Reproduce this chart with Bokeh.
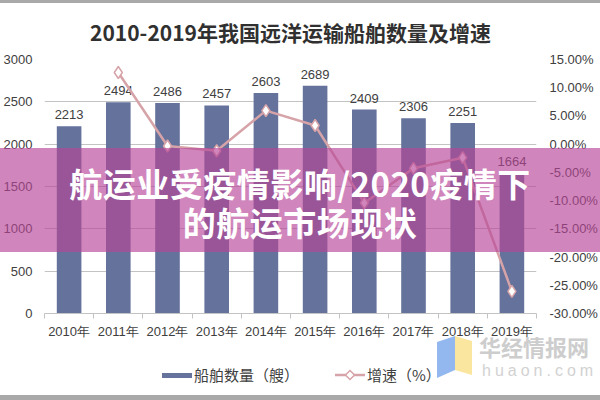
import numpy as np
from bokeh.plotting import figure
from bokeh.models import (Range1d, LinearAxis, FixedTicker, PrintfTickFormatter, Div)
from bokeh.core.properties import value
from bokeh.embed import file_html
from bokeh.resources import INLINE

# ---- data -------------------------------------------------------------
years = ["2010年", "2011年", "2012年", "2013年", "2014年",
         "2015年", "2016年", "2017年", "2018年", "2019年"]
ships = [2213, 2494, 2486, 2457, 2603, 2689, 2409, 2306, 2251, 1664]
growth = [float("nan"), 12.70, -0.32, -1.17, 5.94, 3.30, -10.41, -4.28, -2.39, -26.08]
count_ticks = [0, 500, 1000, 1500, 2000, 2500, 3000]
rate_ticks = [-30, -25, -20, -15, -10, -5, 0, 5, 10, 15]

title_text = "2010-2019年我国远洋运输船舶数量及增速"
banner_lines = ["航运业受疫情影响/2020疫情下", "的航运市场现状"]
series_names = ["船舶数量（艘）", "增速（%）"]

BAR = "#65729c"
PINK = "#d6a3a8"
TXT = "#404040"
GRID = "#c3c3c3"
SANS = "Liberation Sans"
CJK = "Noto Sans CJK SC"

x = np.arange(len(years)) + 0.5

p = figure(width=600, height=400,
           x_range=Range1d(0, len(years)), y_range=Range1d(0, 3000),
           output_backend="svg", toolbar_location=None,
           min_border_left=0, min_border_top=59, min_border_bottom=87,
           min_border_right=0, outline_line_color=None)

# ---- title ------------------------------------------------------------
p.title.text = title_text
p.title.align = "center"
p.title.text_font = CJK
p.title.text_font_size = "21px"
p.title.text_font_style = "bold"
p.title.text_color = "#303030"
p.title.standoff = 25

# ---- axes -------------------------------------------------------------
xa = p.xaxis[0]
xa.ticker = FixedTicker(ticks=list(x), minor_ticks=list(range(len(years) + 1)))
xa.major_label_overrides = {float(v): y for v, y in zip(x, years)}
xa.major_tick_line_color = None
xa.major_tick_out = 0
xa.major_tick_in = 0
xa.minor_tick_out = 5
xa.minor_tick_in = 0
xa.minor_tick_line_color = GRID
xa.axis_line_color = GRID
xa.major_label_standoff = 5
xa.major_label_text_font = SANS
xa.major_label_text_font_size = "13px"
xa.major_label_text_color = TXT

ya = p.yaxis[0]
ya.ticker = FixedTicker(ticks=count_ticks)
ya.axis_line_color = None
ya.major_tick_line_color = None
ya.minor_tick_line_color = None
ya.major_label_standoff = 6
ya.major_label_text_font = SANS
ya.major_label_text_font_size = "13px"
ya.major_label_text_color = TXT

p.extra_y_ranges = {"rate": Range1d(rate_ticks[0], rate_ticks[-1])}
ra = LinearAxis(y_range_name="rate", ticker=FixedTicker(ticks=rate_ticks),
                formatter=PrintfTickFormatter(format="%.2f%%"))
ra.axis_line_color = None
ra.major_tick_line_color = None
ra.minor_tick_line_color = None
ra.major_label_standoff = 7
ra.major_label_text_font = SANS
ra.major_label_text_font_size = "13px"
ra.major_label_text_color = TXT
p.add_layout(ra, "right")

p.xgrid.grid_line_color = None
p.ygrid.grid_line_color = GRID
p.ygrid.ticker = FixedTicker(ticks=count_ticks)

# ---- marks ------------------------------------------------------------
p.vbar(x=x, top=ships, width=0.5, fill_color=BAR, line_color=None)
p.text(x=x, y=ships, text=[str(v) for v in ships], y_offset=-7,
       text_align="center", text_baseline="bottom",
       text_font=value(SANS), text_font_size="13px", text_color=TXT)

p.line(x=x, y=growth, y_range_name="rate", line_color=PINK, line_width=2.5)
p.scatter(x=x, y=growth, y_range_name="rate", marker="diamond",
          size=12, fill_color="white", line_color=PINK, line_width=1.5)

# ---- page overlay: rules, legend key, watermark, headline banner ---------
overlay_html = (
    '<div style="position:absolute;left:0;top:0;width:600px;height:3px;background:#a9a9a9"></div>'
    '<div style="position:absolute;left:0;top:395px;width:600px;height:5px;background:#a9a9a9"></div>'
    # legend keys
    f'<div style="position:absolute;left:162px;top:373px;width:30px;height:5px;background:{BAR}"></div>'
    f'<div style="position:absolute;left:194px;top:364px;font-family:\'{CJK}\';font-size:15px;'
    f'line-height:22px;color:{TXT};white-space:nowrap">{series_names[0]}</div>'
    '<svg width="34" height="14" style="position:absolute;left:333px;top:368px">'
    f'<line x1="2" y1="7" x2="32" y2="7" stroke="{PINK}" stroke-width="2.5"/>'
    f'<polygon points="17,2.5 21.5,7 17,11.5 12.5,7" fill="white" stroke="{PINK}" stroke-width="1.5"/>'
    '</svg>'
    f'<div style="position:absolute;left:367px;top:364px;font-family:\'{CJK}\';font-size:15px;'
    f'line-height:22px;color:{TXT};white-space:nowrap">{series_names[1]}</div>'
    # site mark
    '<svg width="44" height="46" style="position:absolute;left:430px;top:334px">'
    '<polygon points="7,8 25,2 25,36 7,44" fill="#93b8f0"/>'
    '<polygon points="25,2 42,7 42,41 25,36" fill="#fbe6a0"/></svg>'
    f'<div style="position:absolute;left:479px;top:331px;font-family:\'{CJK}\';'
    'font-weight:bold;font-size:22px;line-height:30px;color:#cdcdcd;white-space:nowrap">华经情报网</div>'
    f'<div style="position:absolute;left:482px;top:362px;font-family:\'{SANS}\';'
    'font-size:16px;line-height:18px;letter-spacing:4px;color:#d2d2d2;white-space:nowrap">huaon.com</div>'
    # translucent banner with two-line headline
    '<div style="position:absolute;left:0;top:148px;width:600px;height:104px;'
    'background:rgba(183,69,152,0.65)"></div>'
    f'<div style="position:absolute;left:0;top:164px;width:600px;'
    f'text-align:center;color:white;font-family:\'{CJK}\';font-weight:bold;'
    f'font-size:33px;line-height:39px;letter-spacing:0.5px;white-space:nowrap">'
    f'{"<br>".join(banner_lines)}</div>'
)

overlay = Div(text=overlay_html, width=600, height=400,
              styles={"position": "absolute", "left": "0px", "top": "0px",
                      "overflow": "visible", "pointer-events": "none"})
p.elements = [overlay]

open("out.html", "w").write(file_html(p, INLINE))
